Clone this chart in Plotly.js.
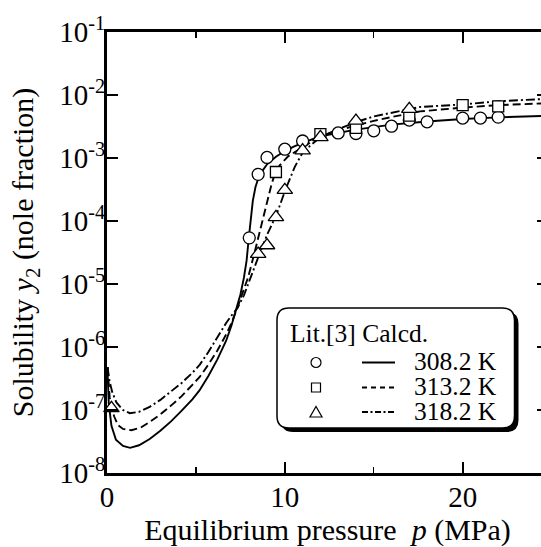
<!DOCTYPE html>
<html><head><meta charset="utf-8">
<script src="https://cdn.plot.ly/plotly-3.0.1.min.js"></script>
<style>html,body{margin:0;padding:0;overflow:hidden;background:#fff;} #chart{width:560px;height:547px;}</style>
</head><body><div id="chart"></div>
<script>
// ---- literature data (Lit.[3]) ----
const litP308 = [8, 8.5, 9, 10, 11, 13, 14, 15, 16, 17, 18, 20, 21, 22];
const litY308 = [5.4e-5, 5.5e-4, 1.02e-3, 1.38e-3, 1.86e-3, 2.5e-3, 2.45e-3, 2.7e-3, 3.2e-3, 4.0e-3, 3.75e-3, 4.3e-3, 4.3e-3, 4.45e-3];
const litP313 = [9.5, 12, 14, 17, 20, 22];
const litY313 = [6.0e-4, 2.4e-3, 3.0e-3, 4.7e-3, 6.9e-3, 6.6e-3];
const litP318 = [0.25, 8.5, 9, 9.5, 10, 11, 12, 14, 17];
const litY318 = [1.07e-7, 3.0e-5, 4.1e-5, 1.15e-4, 3.1e-4, 1.32e-3, 2.14e-3, 3.9e-3, 6.0e-3];

// ---- calculated curves (log10 of mole fraction) ----
const calcP308 = [0.02, 0.05, 0.1, 0.25, 0.5, 0.9, 1.3, 1.8, 2.4, 3.0, 3.6, 4.2, 4.8, 5.2, 5.7, 6.2, 6.7, 7.0, 7.3, 7.5, 7.7, 7.85, 7.97, 8.1, 8.2, 8.35, 8.5, 8.75, 9.0, 9.5, 10, 10.5, 11, 12, 13, 14, 15, 16, 18, 20, 22, 24.8];
const calcLog308 = [-6.32, -6.6, -6.9, -7.25, -7.47, -7.57, -7.6, -7.56, -7.46, -7.33, -7.18, -7.01, -6.83, -6.69, -6.46, -6.2, -5.9, -5.66, -5.39, -5.17, -4.9, -4.63, -4.28, -3.9, -3.68, -3.46, -3.33, -3.2, -3.1, -2.98, -2.89, -2.82, -2.76, -2.655, -2.6, -2.55, -2.51, -2.47, -2.42, -2.38, -2.355, -2.33];
const calcP313 = [0.03, 0.08, 0.15, 0.25, 0.4, 0.62, 0.9, 1.37, 1.9, 2.4, 3.0, 3.6, 4.2, 4.8, 5.2, 5.7, 6.2, 6.7, 7.0, 7.3, 7.6, 7.94, 8.3, 8.6, 8.85, 9.06, 9.25, 9.44, 9.7, 10.2, 10.9, 12, 13, 14, 15, 16, 17.6, 20, 22, 24.8];
const calcLog313 = [-6.32, -6.6, -6.8, -6.95, -7.1, -7.24, -7.3, -7.32, -7.28, -7.19, -7.07, -6.93, -6.78, -6.6, -6.48, -6.28, -6.06, -5.8, -5.62, -5.4, -5.15, -4.89, -4.5, -4.15, -3.87, -3.62, -3.42, -3.25, -3.12, -2.97, -2.85, -2.655, -2.56, -2.48, -2.41, -2.35, -2.26, -2.2, -2.16, -2.13];
const calcP318 = [0.03, 0.08, 0.15, 0.3, 0.53, 0.9, 1.28, 1.8, 2.4, 3.0, 3.6, 4.2, 4.8, 5.22, 5.7, 6.16, 6.7, 7.0, 7.32, 7.7, 8.13, 8.5, 9.0, 9.53, 10.04, 10.56, 11.03, 12, 13, 14, 15, 16, 17.6, 20, 22, 24.8];
const calcLog318 = [-6.32, -6.45, -6.55, -6.72, -6.88, -7.0, -7.05, -7.03, -6.95, -6.84, -6.71, -6.57, -6.41, -6.28, -6.08, -5.86, -5.62, -5.5, -5.39, -5.18, -4.85, -4.58, -4.22, -3.9, -3.5, -3.14, -2.9, -2.67, -2.54, -2.43, -2.34, -2.28, -2.19, -2.15, -2.1, -2.06];

const legendTitle = 'Lit.[3] Calcd.';
const seriesLabels = ['308.2 K', '313.2 K', '318.2 K'];
const yTickVals = [1e-8, 1e-7, 1e-6, 1e-5, 1e-4, 1e-3, 1e-2, 1e-1];
const yTickText = ['10<sup>-8</sup>', '10<sup>-7</sup>', '10<sup>-6</sup>', '10<sup>-5</sup>', '10<sup>-4</sup>', '10<sup>-3</sup>', '10<sup>-2</sup>', '10<sup>-1</sup>'];
const xTickVals = [0, 10, 20];
const xMinorVals = [5, 15];

// ---- styling ----
const FONT = 'Liberation Serif';
const toY = arr => arr.map(v => Math.pow(10, v));
const DASH = '8px,4px';
const DASHDOT = '9px,3px,2px,3px';

function lineTrace(x, y, dash) {
  return {x: x, y: y, type: 'scatter', mode: 'lines', line: {color: 'black', width: 1.9, dash: dash}, showlegend: false, hoverinfo: 'skip'};
}
function markTrace(x, y, symbol, size) {
  return {x: x, y: y, type: 'scatter', mode: 'markers', marker: {symbol: symbol, size: size, color: 'white', line: {color: 'black', width: 1.3}}, showlegend: false, hoverinfo: 'skip', cliponaxis: false};
}

const traces = [
  lineTrace(calcP308, toY(calcLog308), 'solid'),
  lineTrace(calcP313, toY(calcLog313), DASH),
  lineTrace(calcP318, toY(calcLog318), DASHDOT),
  markTrace(litP308, litY308, 'circle', 12),
  markTrace(litP313, litY313, 'square', 11),
  markTrace(litP318, litY318, 'triangle-up', 13.5)
];

// pixel -> paper helpers for the legend box
const ML = 107, MT = 32, PW = 441, PH = 441;
const px = v => (v - ML) / PW;
const py = v => (MT + PH - v) / PH;
function rrect(x0, y0, x1, y1, r) {
  const P = (x, y) => px(x) + ',' + py(y);
  return 'M' + P(x0 + r, y0) + ' L' + P(x1 - r, y0) + ' Q' + P(x1, y0) + ' ' + P(x1, y0 + r) +
    ' L' + P(x1, y1 - r) + ' Q' + P(x1, y1) + ' ' + P(x1 - r, y1) +
    ' L' + P(x0 + r, y1) + ' Q' + P(x0, y1) + ' ' + P(x0, y1 - r) +
    ' L' + P(x0, y0 + r) + ' Q' + P(x0, y0) + ' ' + P(x0 + r, y0) + ' Z';
}
const rows = [362.5, 387.5, 412];
const symX = 316, lineX0 = 362, lineX1 = 395, textX = 412;
const shapes = [
  {type: 'path', xref: 'paper', yref: 'paper', path: rrect(281, 312, 518.5, 432, 12), fillcolor: 'black', line: {width: 0}},
  {type: 'path', xref: 'paper', yref: 'paper', path: rrect(277, 308, 514.5, 428, 12), fillcolor: 'white', line: {color: 'black', width: 1.5}},
  {type: 'circle', xref: 'paper', yref: 'paper', x0: px(symX - 5), x1: px(symX + 5), y0: py(rows[0] - 5), y1: py(rows[0] + 5), line: {color: 'black', width: 1.2}},
  {type: 'rect', xref: 'paper', yref: 'paper', x0: px(symX - 4.5), x1: px(symX + 4.5), y0: py(rows[1] - 4.5), y1: py(rows[1] + 4.5), line: {color: 'black', width: 1.2}},
  {type: 'path', xref: 'paper', yref: 'paper', path: 'M' + px(symX - 6) + ',' + py(rows[2] + 5) + ' L' + px(symX + 6) + ',' + py(rows[2] + 5) + ' L' + px(symX) + ',' + py(rows[2] - 5.5) + ' Z', line: {color: 'black', width: 1.2}},
  {type: 'line', xref: 'paper', yref: 'paper', x0: px(lineX0), x1: px(lineX1), y0: py(rows[0]), y1: py(rows[0]), line: {color: 'black', width: 1.8}},
  {type: 'line', xref: 'paper', yref: 'paper', x0: px(lineX0), x1: px(lineX1), y0: py(rows[1]), y1: py(rows[1]), line: {color: 'black', width: 1.8, dash: '5px,4px'}},
  {type: 'line', xref: 'paper', yref: 'paper', x0: px(lineX0), x1: px(lineX1), y0: py(rows[2]), y1: py(rows[2]), line: {color: 'black', width: 1.8, dash: '6px,2.5px,2px,2.5px'}}
];
const annFont = {family: FONT, size: 25.5, color: 'black'};
const annotations = [
  {xref: 'paper', yref: 'paper', x: px(288), y: py(333), text: legendTitle, showarrow: false, xanchor: 'left', yanchor: 'middle', font: annFont}
].concat(seriesLabels.map((t, i) => ({xref: 'paper', yref: 'paper', x: px(textX), y: py(rows[i] - 1), text: t, showarrow: false, xanchor: 'left', yanchor: 'middle', font: annFont})));

const axisCommon = {
  showline: true, linewidth: 3, linecolor: 'black', mirror: 'ticks',
  ticks: 'inside', ticklen: 11, tickwidth: 2, tickcolor: 'black',
  showgrid: false, zeroline: false, tickfont: {family: FONT, size: 29, color: 'black'}
};
const layout = {
  width: 560, height: 547,
  font: {family: FONT, color: 'black'},
  margin: {l: ML, r: 560 - ML - PW, t: MT, b: 547 - MT - PH},
  paper_bgcolor: 'white', plot_bgcolor: 'white',
  hovermode: false, showlegend: false,
  xaxis: Object.assign({}, axisCommon, {
    range: [0, 24.8], tickmode: 'array', tickvals: xTickVals, ticklabelstandoff: -4,
    minor: {tickmode: 'array', tickvals: xMinorVals, ticks: 'inside', ticklen: 6, tickwidth: 1.5, tickcolor: 'black', showgrid: false},
    title: {text: 'Equilibrium pressure&nbsp; <i>p</i> (MPa)', font: {family: FONT, size: 30, color: 'black'}, standoff: 19}
  }),
  yaxis: Object.assign({}, axisCommon, {
    type: 'log', range: [-8, -1], tickmode: 'array', tickvals: yTickVals, ticktext: yTickText, ticklabelstandoff: -7,
    title: {text: 'Solubility <i>y</i><sub>2</sub> (nole fraction)', font: {family: FONT, size: 30, color: 'black'}, standoff: 17}
  }),
  shapes: shapes, annotations: annotations
};
Plotly.newPlot('chart', traces, layout, {staticPlot: true, displayModeBar: false});
</script></body></html>
